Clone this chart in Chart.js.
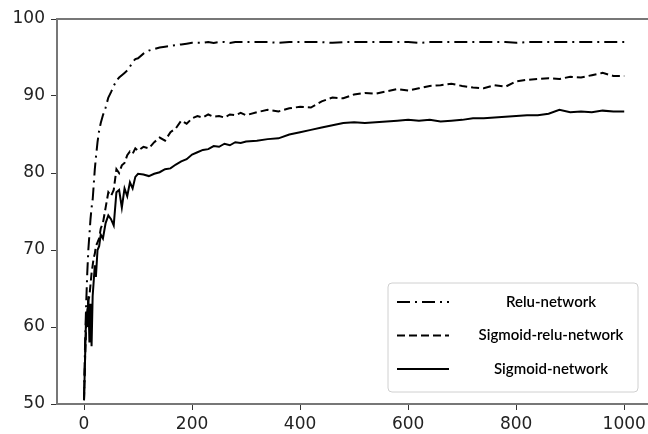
<!DOCTYPE html>
<html>
<head>
<meta charset="utf-8">
<script src="https://cdn.jsdelivr.net/npm/chart.js@4"></script>
<style>
  html, body { margin: 0; padding: 0; background: #fff; }
</style>
</head>
<body>
<canvas id="accChart" width="648" height="434"></canvas>
<script>
// epochs and accuracy values
const epochs = [0, 2, 4, 6, 8, 10, 12, 14, 16, 18, 20, 22, 25, 28, 31,
  35, 40, 45, 50, 55, 60, 65, 70, 75, 80, 85, 90, 95, 100,
  110, 120, 130, 140, 150, 160, 170, 180, 190, 200, 210, 220, 230, 240, 250, 260, 270, 280, 290, 300,
  320, 340, 360, 380, 400, 420, 440, 460, 480, 500, 520, 540, 560, 580, 600, 620, 640, 660,
  680, 700, 720, 740, 760, 780, 800, 820, 840, 860, 880, 900, 920, 940, 960, 980, 1000];

const reluNet = [50.5, 58, 63, 67, 70, 72, 74, 75.5, 76.5, 78.5, 80.5, 82, 84, 85.5, 86.5,
  87.5, 88.5, 89.8, 90.5, 91.3, 92, 92.4, 92.7, 93, 93.3, 93.8, 94.4, 94.8, 94.9,
  95.5, 95.9, 96.1, 96.3, 96.4, 96.5, 96.6, 96.7, 96.8, 96.9, 96.9, 96.9, 97, 96.9, 97, 97, 96.9, 97, 97, 97,
  97, 97, 96.9, 97, 97, 97, 97, 96.9, 97, 97, 97, 97, 97, 97, 97, 96.9, 97, 97,
  97, 97, 97, 97, 97, 97, 96.9, 97, 97, 97, 97, 97, 97, 97, 97, 97, 97];

const sigReluNet = [50.5, 56, 60, 62, 63.5, 64, 65.5, 67, 68, 69, 69.5, 70.5, 71, 71.5, 72.8,
  73.5, 75.5, 77.5, 77, 77.8, 80.5, 80, 81, 81.3, 82.3, 82.8, 82.5, 83.2, 82.9,
  83.4, 83.2, 84, 84.6, 84.2, 85.3, 85.8, 86.8, 86.4, 87.1, 87.4, 87.2, 87.6, 87.3, 87.4, 87.2, 87.6, 87.5, 87.8, 87.5,
  87.9, 88.2, 88.0, 88.4, 88.6, 88.5, 89.3, 89.8, 89.7, 90.2, 90.4, 90.3, 90.6, 90.9, 90.7, 91.0, 91.3, 91.4,
  91.6, 91.3, 91.1, 91.0, 91.4, 91.2, 91.9, 92.1, 92.2, 92.3, 92.2, 92.5, 92.4, 92.7, 93.0, 92.6, 92.6];

const sigNet = [50.5, 56, 62, 60, 64, 58, 63, 57.5, 64, 66, 68, 66.5, 70, 70.5, 72,
  71.5, 73.5, 74.5, 74, 73.2, 77.5, 77.8, 75.5, 78, 77, 78.8, 78, 79.5, 79.9,
  79.8, 79.6, 79.9, 80.1, 80.5, 80.6, 81.1, 81.5, 81.8, 82.4, 82.7, 83.0, 83.1, 83.5, 83.4, 83.8, 83.6, 84.0, 83.9, 84.1,
  84.2, 84.4, 84.5, 85.0, 85.3, 85.6, 85.9, 86.2, 86.5, 86.6, 86.5, 86.6, 86.7, 86.8, 86.9, 86.8, 86.9, 86.7,
  86.8, 86.9, 87.1, 87.1, 87.2, 87.3, 87.4, 87.5, 87.5, 87.7, 88.2, 87.9, 88.0, 87.9, 88.1, 88.0, 88.0];

const seriesNames = ['Relu-network', 'Sigmoid-relu-network', 'Sigmoid-network'];
const xTicks = [0, 200, 400, 600, 800, 1000];
const yTicks = [50, 60, 70, 80, 90, 100];

const pts = vals => epochs.map((e, i) => ({ x: e, y: vals[i] }));

// legend box drawn inside the plot, like the matplotlib one
const boxLegend = {
  id: 'boxLegend',
  afterDraw(chart) {
    const c = chart.ctx;
    const x0 = 388, y0 = 283, w = 250, h = 109;
    c.save();
    c.fillStyle = 'rgba(255,255,255,0.9)';
    c.strokeStyle = '#d0d0d0';
    c.lineWidth = 1;
    c.beginPath();
    c.roundRect(x0, y0, w, h, 4);
    c.fill();
    c.stroke();
    c.font = '600 15px Lato';
    c.textAlign = 'center';
    c.textBaseline = 'middle';
    chart.data.datasets.forEach((ds, i) => {
      const y = 302 + i * 33.5;
      c.strokeStyle = '#000';
      c.lineWidth = 2.2;
      c.setLineDash(ds.borderDash || []);
      c.beginPath();
      c.moveTo(397, y);
      c.lineTo(449, y);
      c.stroke();
      c.setLineDash([]);
      c.fillStyle = '#000';
      c.fillText(ds.label, 551, y);
    });
    c.restore();
  }
};

new Chart(document.getElementById('accChart'), {
  type: 'line',
  data: {
    datasets: [
      { label: seriesNames[0], data: pts(reluNet), borderDash: [13, 5, 2, 5] },
      { label: seriesNames[1], data: pts(sigReluNet), borderDash: [8, 4] },
      { label: seriesNames[2], data: pts(sigNet) }
    ].map(d => Object.assign(d, {
      borderColor: '#000', borderWidth: 2, pointRadius: 0, tension: 0, fill: false
    }))
  },
  options: {
    responsive: false,
    animation: false,
    layout: { padding: { top: 19, right: 0, left: 0, bottom: 0 } },
    plugins: { legend: { display: false }, tooltip: { enabled: false } },
    scales: {
      x: {
        type: 'linear',
        min: -50,
        max: 1044,
        afterBuildTicks: s => { s.ticks = xTicks.map(v => ({ value: v })); },
        afterFit: s => { s.height = 30; s.paddingRight = 0; s.paddingLeft = 0; },
        grid: { drawOnChartArea: false, drawTicks: true, tickLength: 6, color: '#333' },
        border: { color: '#777', width: 2 },
        ticks: { color: '#222', padding: 4, maxRotation: 0, callback: v => String(v),
          font: { family: 'DejaVu Sans', size: 17 } }
      },
      y: {
        min: 50,
        max: 100,
        afterBuildTicks: s => { s.ticks = yTicks.map(v => ({ value: v })); },
        afterFit: s => { s.width = 57; },
        grid: { drawOnChartArea: false, drawTicks: true, tickLength: 6, color: '#333' },
        border: { color: '#777', width: 2 },
        ticks: { color: '#222', padding: 6, callback: v => String(v),
          font: { family: 'DejaVu Sans', size: 17 } }
      }
    }
  },
  plugins: [boxLegend, {
    id: 'topSpine',
    afterDraw(chart) {
      const a = chart.chartArea, c = chart.ctx;
      c.save();
      c.strokeStyle = '#777';
      c.lineWidth = 2;
      c.beginPath();
      c.moveTo(a.left, a.top);
      c.lineTo(a.right, a.top);
      c.stroke();
      c.restore();
    }
  }]
});
</script>
</body>
</html>
